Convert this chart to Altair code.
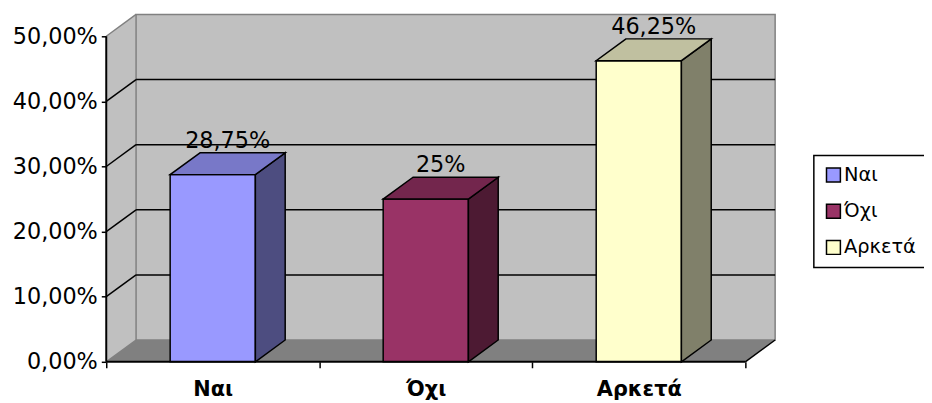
import altair as alt
import pandas as pd

# ---- data ----
categories = ["Ναι", "Όχι", "Αρκετά"]
values = [28.75, 25.0, 46.25]
value_labels = ["28,75%", "25%", "46,25%"]
y_ticks = [0, 10, 20, 30, 40, 50]

# ---- colours ----
front_colors = ["#9999FF", "#993366", "#FFFFCC"]
top_colors = ["#7878C8", "#73264D", "#C0C0A0"]
side_colors = ["#4D4D80", "#4D1A33", "#80806A"]
WALL = "#C0C0C0"
FLOOR = "#808080"
EDGE = "#808080"

# ---- 3D geometry (data units) ----
DX = 0.14      # depth offset along x (category units)
DY = 3.35      # depth offset along y (percent units)
BAR_W = 0.4
N = len(categories)
Y_TOP = max(y_ticks)

FONT = "DejaVu Sans"

xs = alt.Scale(domain=[0, N + DX], nice=False, zero=False)
ys = alt.Scale(domain=[0, Y_TOP + DY], nice=False, zero=False)

# ---- tables built from the arrays ----
front = pd.DataFrame({
    "cat": categories,
    "x0": [i + 0.5 - BAR_W / 2 for i in range(N)],
    "x1": [i + 0.5 + BAR_W / 2 for i in range(N)],
    "y0": [0.0] * N,
    "y1": values,
})

side_rows, top_rows, lab_rows = [], [], []
for i, (c, v) in enumerate(zip(categories, values)):
    x0 = i + 0.5 - BAR_W / 2
    x1 = i + 0.5 + BAR_W / 2
    side_rows += [
        {"cat": c, "x": x1, "lo": 0.0, "hi": v, "fill": side_colors[i]},
        {"cat": c, "x": x1 + DX, "lo": DY, "hi": v + DY, "fill": side_colors[i]},
    ]
    top_rows += [
        {"cat": c, "y": v, "xa": x0, "xb": x1, "fill": top_colors[i]},
        {"cat": c, "y": v + DY, "xa": x0 + DX, "xb": x1 + DX, "fill": top_colors[i]},
    ]
    lab_rows.append({"x": i + 0.5 + DX / 2, "y": v + DY, "label": value_labels[i]})
side = pd.DataFrame(side_rows)
top = pd.DataFrame(top_rows)
labs = pd.DataFrame(lab_rows)

left_wall = pd.DataFrame({"x": [0.0, DX], "lo": [0.0, DY], "hi": [Y_TOP, Y_TOP + DY]})
floor = pd.DataFrame({"y": [0.0, DY], "xa": [0.0, DX], "xb": [float(N), N + DX]})
back_wall = pd.DataFrame({"x": [DX], "x2": [N + DX], "y": [DY], "y2": [Y_TOP + DY]})
back_grid = pd.DataFrame({"y": [t + DY for t in y_ticks[1:-1]], "x": [DX] * (len(y_ticks) - 2),
                          "x2": [N + DX] * (len(y_ticks) - 2)})
side_grid = pd.DataFrame({
    "x": [0.0] * len(y_ticks), "x2": [DX] * len(y_ticks),
    "y": [float(t) for t in y_ticks], "y2": [t + DY for t in y_ticks],
    "col": ["black" if 0 < t < Y_TOP else EDGE for t in y_ticks],
})
front_axis = pd.DataFrame({"x": [0.0], "y": [0.0], "y2": [float(Y_TOP)]})
front_floor = pd.DataFrame({"x": [0.0], "x2": [float(N)], "y": [0.0]})
floor_edge = pd.DataFrame({"x": [float(N)], "x2": [N + DX], "y": [0.0], "y2": [DY]})

label_list = "[" + ",".join("'" + c + "'" for c in categories) + ",'']"

y_axis = alt.Axis(values=y_ticks, labelExpr="replace(format(datum.value, '.2f'), '.', ',') + '%'",
                  domain=False, grid=False, ticks=True, tickSize=5, tickColor="black", tickWidth=1.5,
                  labelFont=FONT, labelFontSize=22.5, labelColor="black", labelPadding=4, title=None)
x_axis = alt.Axis(values=list(range(N + 1)), labelExpr=label_list + "[datum.value]",
                  labelOffset=107.3, domain=False, grid=False, tickSize=6, tickColor="black",
                  tickWidth=1.5, labelFont=FONT, labelFontSize=21, labelFontWeight="bold",
                  labelColor="black", labelPadding=11, labelOverlap=False, labelFlush=False,
                  labelBound=False, title=None)


def X(f):
    return alt.X(f, scale=xs, axis=x_axis)


def Y(f):
    return alt.Y(f, scale=ys, axis=y_axis)


# ---- layers ----
wall_l = alt.Chart(left_wall).mark_area(orient="vertical", color=WALL).encode(
    x=X("x:Q"), y=Y("lo:Q"), y2="hi:Q")
floor_l = alt.Chart(floor).mark_area(orient="horizontal", color=FLOOR).encode(
    y=Y("y:Q"), x=X("xa:Q"), x2="xb:Q")
back_l = alt.Chart(back_wall).mark_rect(color=WALL, stroke=EDGE, strokeWidth=1.5).encode(
    x=X("x:Q"), x2="x2:Q", y=Y("y:Q"), y2="y2:Q")
bgrid_l = alt.Chart(back_grid).mark_rule(color="black", strokeWidth=1.5).encode(
    x=X("x:Q"), x2="x2:Q", y=Y("y:Q"))
sgrid_l = alt.Chart(side_grid).mark_rule(strokeWidth=1.5).encode(
    x=X("x:Q"), x2="x2:Q", y=Y("y:Q"), y2="y2:Q",
    color=alt.Color("col:N", scale=None))
faxis_l = alt.Chart(front_axis).mark_rule(color="black", strokeWidth=2).encode(
    x=X("x:Q"), y=Y("y:Q"), y2="y2:Q")
ffloor_l = alt.Chart(front_floor).mark_rule(color="black", strokeWidth=2).encode(
    x=X("x:Q"), x2="x2:Q", y=Y("y:Q"))
fedge_l = alt.Chart(floor_edge).mark_rule(color="black", strokeWidth=1.5).encode(
    x=X("x:Q"), x2="x2:Q", y=Y("y:Q"), y2="y2:Q")

front_l = alt.Chart(front).mark_rect(stroke="black", strokeWidth=1.5).encode(
    x=X("x0:Q"), x2="x1:Q",
    y=Y("y0:Q"), y2="y1:Q",
    fill=alt.Fill("cat:N", scale=alt.Scale(domain=categories, range=front_colors),
                  sort=categories,
                  legend=alt.Legend(title=None, orient="none", legendX=713, legendY=142,
                                    symbolType="square", symbolSize=196, symbolStrokeColor="black",
                                    symbolStrokeWidth=1.5, symbolOpacity=1,
                                    labelFont=FONT, labelFontSize=19.5, labelColor="black",
                                    labelOffset=1, rowPadding=15.5, padding=10,
                                    fillColor="white", strokeColor="black")))
side_l = alt.Chart(side).mark_area(orient="vertical", stroke="black", strokeWidth=1.5,
                                    opacity=1).encode(
    x=X("x:Q"), y=Y("lo:Q"), y2="hi:Q",
    detail="cat:N", fill=alt.Fill("fill:N", scale=None))
top_l = alt.Chart(top).mark_area(orient="horizontal", stroke="black", strokeWidth=1.5,
                                  opacity=1).encode(
    y=Y("y:Q"), x=X("xa:Q"), x2="xb:Q",
    detail="cat:N", fill=alt.Fill("fill:N", scale=None))
text_l = alt.Chart(labs).mark_text(font=FONT, fontSize=22.5, color="black", baseline="alphabetic",
                                    align="center", dy=-5).encode(
    x=X("x:Q"), y=Y("y:Q"), text="label:N")

chart = alt.layer(
    wall_l, floor_l, back_l, bgrid_l, sgrid_l, fedge_l,
    front_l, side_l, top_l, faxis_l, ffloor_l, text_l,
).properties(
    width=674, height=350,
    autosize=alt.AutoSizeParams(type="none"),
    padding={"left": 99, "top": 5, "right": 150, "bottom": 40},
    background="white",
).configure_view(stroke=None).configure_legend(strokeWidth=1.5)

chart.save("out.html", embed_options={"renderer": "svg", "actions": False})
